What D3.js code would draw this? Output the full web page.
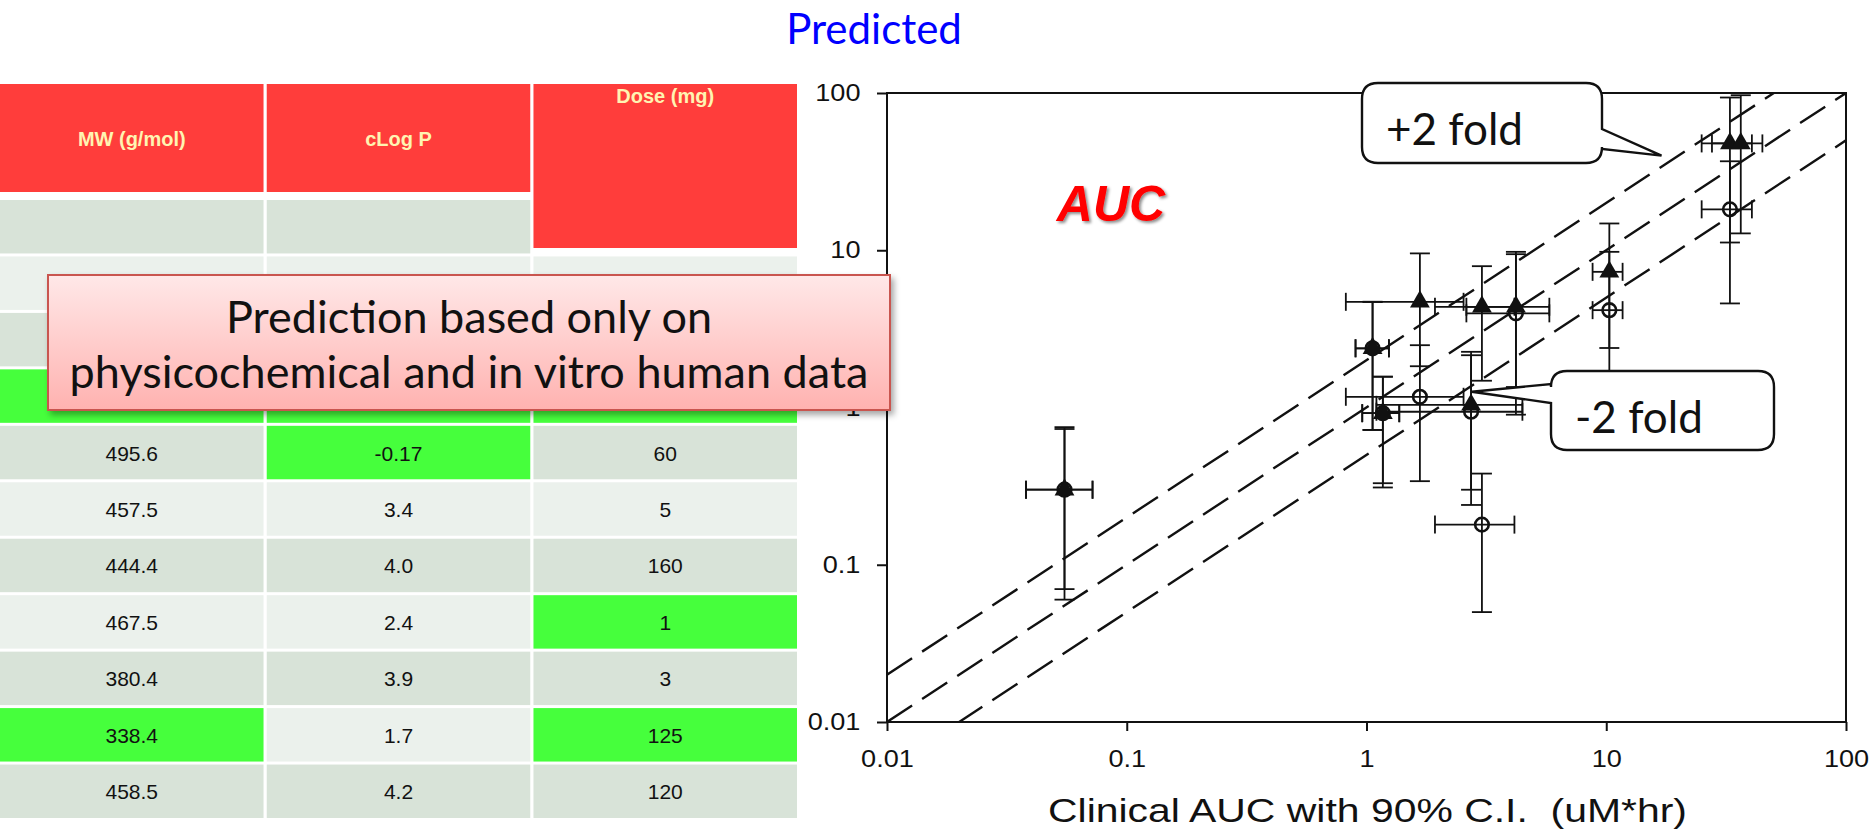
<!DOCTYPE html>
<html>
<head>
<meta charset="utf-8">
<title>Predicted vs clinical AUC</title>
<script src="https://d3js.org/d3.v7.min.js"></script>
<style>
    body { margin: 0; background: #fff; }
    svg { display: block; }
</style>
</head>
<body>
<svg width="1876" height="834"></svg>
<script>
// ---- table data ----
const tableHeaders = ['MW (g/mol)', 'cLog P', 'Dose (mg)'];
const mw    = ['', '', '', '', '495.6', '457.5', '444.4', '467.5', '380.4', '338.4', '458.5'];
const clogp = ['', '', '', '', '-0.17', '3.4', '4.0', '2.4', '3.9', '1.7', '4.2'];
const dose  = ['', '', '', '', '60', '5', '160', '1', '3', '125', '120'];
// 1 = cell flagged (green)
const mwFlag    = [0, 0, 0, 1, 0, 0, 0, 0, 0, 1, 0];
const clogpFlag = [0, 0, 0, 1, 1, 0, 0, 0, 0, 0, 0];
const doseFlag  = [0, 0, 0, 1, 0, 0, 0, 1, 0, 1, 0];

// ---- plot data (clinical AUC with 90% CI, predicted AUC with CI) ----
const clinAUC = [0.055, 1.06, 1.17, 1.67, 3.03, 4.2, 2.73, 10.3, 32.8, 36.4];
const clinLo  = [0.038, 0.90, 0.96, 0.82, 1.93, 2.61, 1.10, 8.77, 25.0, 27.6];
const clinHi  = [0.072, 1.24, 1.37, 2.54, 4.14, 5.79, 4.47, 11.7, 40.5, 44.8];
const predTri   = [0.30, 2.38, 0.92, 4.70, 4.37, 4.37, 1.04, 7.29, 47.8, 47.8];
const predTriLo = [0.070, 0.72, 0.33, 1.83, 1.48, 1.35, 0.30, 2.39, 11.2, 12.8];
const predTriHi = [0.75, 4.70, 1.57, 9.55, 7.92, 9.77, 2.26, 14.8, 93.6, 96.8];
const predCirc   = [0.30, 2.38, 0.92, 1.17, 0.18, 3.97, 0.94, 4.16, 18.2, null];
const predCircLo = [0.060, 0.72, 0.31, 0.34, 0.050, 0.90, 0.24, 1.3, 4.59, null];
const predCircHi = [0.73, 4.70, 1.57, 2.49, 0.38, 9.44, 2.15, 9.77, 36.8, null];

const axisTicks = [0.01, 0.1, 1, 10, 100];
const tickLabels = ['0.01', '0.1', '1', '10', '100'];
const foldFactors = [2, 1, 0.5];
const plusTip = [17, 40];     // where the "+2 fold" callout points
const minusTip = [2.75, 1.26];

const svg = d3.select('svg');
const arial = '"Liberation Sans", Arial, sans-serif';
const defs = svg.append('defs');

// ---------------- table ----------------
const colBand = d3.scaleBand().domain(d3.range(3)).range([0, 797]).paddingInner(0.012);
const rowBand = d3.scaleBand().domain(d3.range(mw.length)).range([200, 818]).paddingInner(0.053);
const red = '#ff3d3b', dark = '#d8e3d8', light = '#ebf1ec', green = '#46ff3c';

let table = svg.append('g').attr('id', 'table');

table.selectAll('.head')
    .data(tableHeaders)
    .enter().append('rect')
    .attr('class', 'head')
    .attr('x', (d, i) => colBand(i))
    .attr('y', 84)
    .attr('width', colBand.bandwidth())
    .attr('height', (d, i) => i == 2 ? 164 : 108)
    .style('fill', red);

table.selectAll('.headtext')
    .data(tableHeaders)
    .enter().append('text')
    .attr('x', (d, i) => colBand(i) + colBand.bandwidth() / 2)
    .attr('y', (d, i) => i == 2 ? 103 : 146)
    .attr('text-anchor', 'middle')
    .style('font-family', arial)
    .style('font-weight', 'bold')
    .style('font-size', '20px')
    .style('fill', '#fff4b2')
    .text(d => d);

let cells = [];
mw.forEach((v, r) => {
    cells.push({ r: r, c: 0, text: v, flag: mwFlag[r] });
    cells.push({ r: r, c: 1, text: clogp[r], flag: clogpFlag[r] });
    if (r > 0) cells.push({ r: r, c: 2, text: dose[r], flag: doseFlag[r] });
});

table.selectAll('.cell')
    .data(cells)
    .enter().append('rect')
    .attr('class', 'cell')
    .attr('x', d => colBand(d.c))
    .attr('y', d => rowBand(d.r))
    .attr('width', colBand.bandwidth())
    .attr('height', rowBand.bandwidth())
    .style('fill', d => d.flag ? green : (d.r % 2 == 0 ? dark : light));

table.selectAll('.celltext')
    .data(cells)
    .enter().append('text')
    .attr('x', d => colBand(d.c) + colBand.bandwidth() / 2)
    .attr('y', d => rowBand(d.r) + rowBand.bandwidth() / 2 + 8)
    .attr('text-anchor', 'middle')
    .style('font-family', arial)
    .style('font-size', '21px')
    .style('fill', '#111')
    .text(d => d.text);

// ---------------- plot ----------------
const x = d3.scaleLog().domain([0.01, 100]).range([887, 1846]);
const y = d3.scaleLog().domain([0.01, 100]).range([722, 93]);

let g = svg.append('g').attr('id', 'plot');

defs.append('clipPath').attr('id', 'clip')
    .append('rect')
    .attr('x', x.range()[0]).attr('y', y.range()[1])
    .attr('width', x.range()[1] - x.range()[0])
    .attr('height', y.range()[0] - y.range()[1]);

let xAxis = d3.axisBottom(x).tickValues(axisTicks)
    .tickFormat((d, i) => tickLabels[i]).tickSize(9).tickPadding(19).tickSizeOuter(0);
let yAxis = d3.axisLeft(y).tickValues(axisTicks)
    .tickFormat((d, i) => tickLabels[i]).tickSize(10).tickPadding(14).tickSizeOuter(0);

g.append('g')
    .attr('class', 'x-axis')
    .attr('transform', 'translate(0,' + y.range()[0] + ')')
    .call(xAxis)
    .call(a => a.select('.domain').remove());
g.append('g')
    .attr('class', 'y-axis')
    .attr('transform', 'translate(' + x.range()[0] + ',0)')
    .call(yAxis)
    .call(a => a.select('.domain').remove());

g.selectAll('.tick line').attr('stroke', '#111').attr('stroke-width', 2);
g.selectAll('.tick text')
    .attr('fill', '#111')
    .style('font-family', arial)
    .style('font-size', '24px');
// the original chart image is a little stretched sideways
g.selectAll('.x-axis .tick text').attr('transform', 'scale(1.13,1)');
g.selectAll('.y-axis .tick text').attr('x', -23.5).attr('transform', 'scale(1.13,1)');

g.append('rect')
    .attr('x', x.range()[0]).attr('y', y.range()[1])
    .attr('width', x.range()[1] - x.range()[0])
    .attr('height', y.range()[0] - y.range()[1])
    .style('fill', 'none')
    .style('stroke', '#111')
    .style('stroke-width', 2);

// fold lines
let line = d3.line().x(d => x(d[0])).y(d => y(d[1]));
g.append('g').attr('clip-path', 'url(#clip)')
    .selectAll('.fold')
    .data(foldFactors)
    .enter().append('path')
    .attr('class', 'fold')
    .attr('d', f => line([[0.01, 0.01 * f], [100, 100 * f]]))
    .style('fill', 'none')
    .style('stroke', '#111')
    .style('stroke-width', 2.4)
    .style('stroke-dasharray', '30,12');

// error bars
let series = [
    { pred: predTri, lo: predTriLo, hi: predTriHi },
    { pred: predCirc, lo: predCircLo, hi: predCircHi }
];
let bars = g.append('g').style('stroke', '#111').style('stroke-width', 1.8).style('fill', 'none');
series.forEach(s => {
    clinAUC.forEach((cx, i) => {
        if (s.pred[i] == null) return;
        let px = x(cx), py = y(s.pred[i]);
        let capW = 10, capH = 9;
        // vertical (predicted CI)
        bars.append('line').attr('x1', px).attr('x2', px).attr('y1', y(s.lo[i])).attr('y2', y(s.hi[i]));
        bars.append('line').attr('x1', px - capW).attr('x2', px + capW).attr('y1', y(s.lo[i])).attr('y2', y(s.lo[i]));
        bars.append('line').attr('x1', px - capW).attr('x2', px + capW).attr('y1', y(s.hi[i])).attr('y2', y(s.hi[i]));
        // horizontal (clinical CI)
        bars.append('line').attr('x1', x(clinLo[i])).attr('x2', x(clinHi[i])).attr('y1', py).attr('y2', py);
        bars.append('line').attr('x1', x(clinLo[i])).attr('x2', x(clinLo[i])).attr('y1', py - capH).attr('y2', py + capH);
        bars.append('line').attr('x1', x(clinHi[i])).attr('x2', x(clinHi[i])).attr('y1', py - capH).attr('y2', py + capH);
    });
});

// markers
g.selectAll('.circ')
    .data(clinAUC.map((d, i) => [d, predCirc[i]]).filter(d => d[1] != null))
    .enter().append('circle')
    .attr('class', 'circ')
    .attr('cx', d => x(d[0]))
    .attr('cy', d => y(d[1]))
    .attr('r', 6.8)
    .style('fill', 'none')
    .style('stroke', '#111')
    .style('stroke-width', 2.6);

g.selectAll('.tri')
    .data(clinAUC.map((d, i) => [d, predTri[i]]))
    .enter().append('path')
    .attr('class', 'tri')
    .attr('transform', d => 'translate(' + x(d[0]) + ',' + y(d[1]) + ')')
    .attr('d', d3.symbol(d3.symbolTriangle, 170))
    .style('fill', '#111');

// axis title
g.append('text')
    .attr('x', (1048 + 1687) / 2)
    .attr('y', 822)
    .attr('text-anchor', 'middle')
    .attr('textLength', 639)
    .attr('lengthAdjust', 'spacingAndGlyphs')
    .style('font-family', arial)
    .style('font-size', '34px')
    .style('fill', '#111')
    .style('white-space', 'pre')
    .text('Clinical AUC with 90% C.I.  (uM*hr)');

// ---------------- annotations ----------------
svg.append('text')
    .attr('x', 874)
    .attr('y', 44)
    .attr('text-anchor', 'middle')
    .style('font-family', 'Lato, sans-serif')
    .style('font-size', '42px')
    .style('fill', '#0000ff')
    .text('Predicted');

let aucShadow = defs.append('filter').attr('id', 'aucShadow')
    .attr('x', '-10%').attr('y', '-10%').attr('width', '130%').attr('height', '140%');
aucShadow.append('feDropShadow').attr('dx', 2).attr('dy', 2).attr('stdDeviation', 1.5)
    .attr('flood-color', '#000').attr('flood-opacity', 0.45);
svg.append('text')
    .attr('x', 1111)
    .attr('y', 221)
    .attr('text-anchor', 'middle')
    .attr('filter', 'url(#aucShadow)')
    .style('font-family', arial)
    .style('font-weight', 'bold')
    .style('font-style', 'italic')
    .style('font-size', '50px')
    .style('fill', '#ff0000')
    .text('AUC');

// callouts: rounded box with a wedge pointing at tip
function callout(b, side, p1, p2, tip, r) {
    let p = d3.path();
    p.moveTo(b.x0 + r, b.y0);
    p.lineTo(b.x1 - r, b.y0);
    p.quadraticCurveTo(b.x1, b.y0, b.x1, b.y0 + r);
    if (side == 'right') {
        p.lineTo(b.x1, p1); p.lineTo(tip[0], tip[1]); p.lineTo(b.x1, p2);
    }
    p.lineTo(b.x1, b.y1 - r);
    p.quadraticCurveTo(b.x1, b.y1, b.x1 - r, b.y1);
    p.lineTo(b.x0 + r, b.y1);
    p.quadraticCurveTo(b.x0, b.y1, b.x0, b.y1 - r);
    if (side == 'left') {
        p.lineTo(b.x0, p2); p.lineTo(tip[0], tip[1]); p.lineTo(b.x0, p1);
    }
    p.lineTo(b.x0, b.y0 + r);
    p.quadraticCurveTo(b.x0, b.y0, b.x0 + r, b.y0);
    p.closePath();
    return p.toString();
}

let notes = svg.append('g');
notes.append('path')
    .attr('d', callout({ x0: 1362, y0: 83, x1: 1602, y1: 163 }, 'right', 129, 149,
        [x(plusTip[0]), y(plusTip[1])], 16))
    .style('fill', '#fff').style('stroke', '#111').style('stroke-width', 2.4);
notes.append('text')
    .attr('x', 1386).attr('y', 145)
    .style('font-family', 'Lato, sans-serif').style('font-size', '44px').style('fill', '#111')
    .text('+2 fold');

notes.append('path')
    .attr('d', callout({ x0: 1551, y0: 371, x1: 1774, y1: 450 }, 'left', 384, 403,
        [x(minusTip[0]), y(minusTip[1])], 16))
    .style('fill', '#fff').style('stroke', '#111').style('stroke-width', 2.4);
notes.append('text')
    .attr('x', 1575).attr('y', 433)
    .style('font-family', 'Lato, sans-serif').style('font-size', '44px').style('fill', '#111')
    .text('-2 fold');

// pink overlay box
let grad = defs.append('linearGradient').attr('id', 'pink')
    .attr('x1', 0).attr('y1', 0).attr('x2', 0).attr('y2', 1);
grad.append('stop').attr('offset', '0%').attr('stop-color', '#ffe8e8');
grad.append('stop').attr('offset', '100%').attr('stop-color', '#ffb2b0');
let boxShadow = defs.append('filter').attr('id', 'boxShadow')
    .attr('x', '-5%').attr('y', '-10%').attr('width', '110%').attr('height', '130%');
boxShadow.append('feDropShadow').attr('dx', 3).attr('dy', 4).attr('stdDeviation', 3)
    .attr('flood-color', '#000').attr('flood-opacity', 0.35);

svg.append('rect')
    .attr('x', 48).attr('y', 275)
    .attr('width', 842).attr('height', 135)
    .attr('filter', 'url(#boxShadow)')
    .style('fill', 'url(#pink)')
    .style('stroke', '#c9544f')
    .style('stroke-width', 2);

svg.selectAll('.boxline')
    .data(['Prediction based only on', 'physicochemical and in vitro human data'])
    .enter().append('text')
    .attr('x', 469)
    .attr('y', (d, i) => 333 + i * 55)
    .attr('text-anchor', 'middle')
    .style('font-family', 'Lato, sans-serif')
    .style('font-size', '45px')
    .style('fill', '#111')
    .text(d => d);
</script>
</body>
</html>
